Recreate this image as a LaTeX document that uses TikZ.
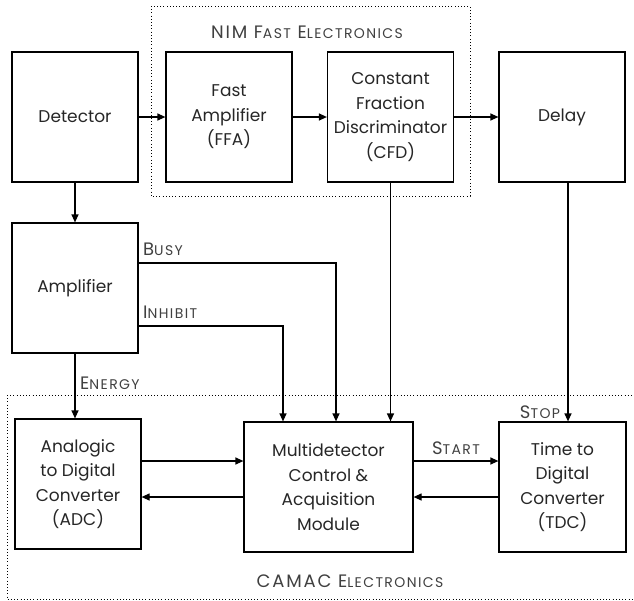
\documentclass[tikz,border=0pt]{standalone}
\usepackage{fontspec}
\setmainfont{Poppins}
\newfontfamily\lblfont[LetterSpace=10]{Poppins}
\usetikzlibrary{arrows.meta}
\newcommand\mysc[2]{#1{\fontsize{14}{15}\selectfont #2}}
\begin{document}
\begin{tikzpicture}[x=1pt,y=-1pt,
  every node/.style={font=\fontsize{17}{24.5}\selectfont, text=black!85},
  blk/.style={draw, line width=1.2pt, minimum width=126pt, minimum height=130pt, align=center, inner sep=0pt},
  conn/.style={line width=1.2pt, -{Triangle[length=8pt,width=7pt]}},
  grp/.style={line width=0.9pt, dash pattern=on 0.9pt off 2.3pt},
  lbl/.style={font=\lblfont\fontsize{18}{20}\selectfont, text=black!75, inner sep=0pt}]
\useasboundingbox (0,0) rectangle (634,600);
% groups
\draw[grp] (151,6) rectangle (470,196);
\draw[grp] (7,395) -- (634,395);
\draw[grp] (7,395) -- (7,599) -- (634,599);
\node[lbl] (nim) at (307,32) {NIM \mysc{F}{AST} \mysc{E}{LECTRONICS}};
\node[lbl] (camac) at (350,581) {CAMAC \mysc{E}{LECTRONICS}};
% blocks
\node[blk] (det) at (75,117) {Detector};
\node[blk] (ffa) at (229,117) {Fast\\Amplifier\\(FFA)};
\node[blk] (cfd) at (390.5,117) {Constant\\Fraction\\Discriminator\\(CFD)};
\node[blk] (dly) at (562,117) {Delay};
\node[blk] (amp) at (75,288) {Amplifier};
\node[blk] (adc) at (78,484) {Analogic\\to Digital\\Converter\\(ADC)};
\node[blk, minimum width=169pt] (mca) at (328.5,487) {Multidetector\\Control \&\\Acquisition\\Module};
\node[blk, minimum width=127pt] (tdc) at (562.5,487) {Time to\\Digital\\Converter\\(TDC)};
% connectors
\draw[conn] (det) -- (ffa);
\draw[conn] (ffa) -- (cfd);
\draw[conn] (cfd) -- (dly);
\draw[conn] (det.south) -- (amp.north);
\draw[conn] (amp.south) -- (amp.south |- adc.north);
\draw[conn] (amp.east |- 0,263) -| (336,0 |- mca.north);
\draw[conn] (amp.east |- 0,326) -| (283,0 |- mca.north);
\draw[conn] (cfd.south) -- (cfd.south |- mca.north);
\draw[conn] (568,0 |- dly.south) -- (568,0 |- tdc.north);
\draw[conn] (adc.east |- 0,461) -- (mca.west |- 0,461);
\draw[conn] (mca.west |- 0,497) -- (adc.east |- 0,497);
\draw[conn] (mca.east |- 0,461) -- (tdc.west |- 0,461);
\draw[conn] (tdc.west |- 0,497) -- (mca.east |- 0,497);
% labels
\node[lbl, anchor=west] (busy) at (143,249) {\mysc{B}{USY}};
\node[lbl, anchor=west] (inh) at (143,312) {\mysc{I}{NHIBIT}};
\node[lbl, anchor=west] (en) at (80,383) {\mysc{E}{NERGY}};
\node[lbl] (start) at (456,448) {\mysc{S}{TART}};
\node[lbl] (stop) at (540,412) {\mysc{S}{TOP}};
\end{tikzpicture}
\end{document}
